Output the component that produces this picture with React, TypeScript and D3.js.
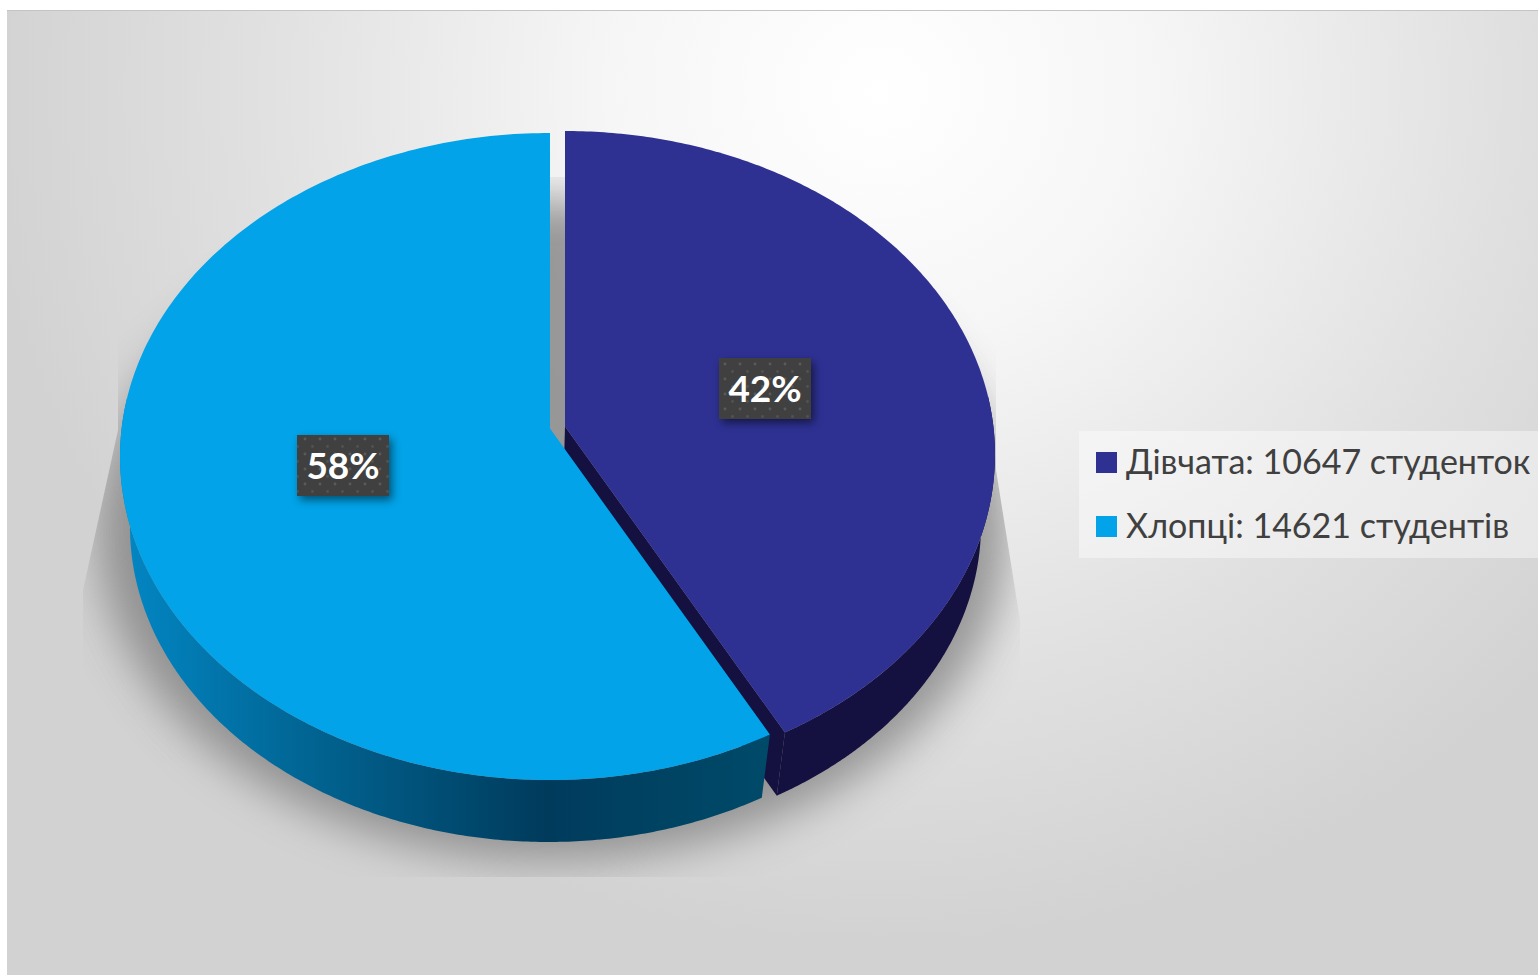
import React from "react";
import * as d3 from "d3";

const categories = ["Дівчата", "Хлопці"];
const studentCounts = [10647, 14621];
const percentLabels = ["42%", "58%"];
const legendLabels = ["Дівчата: 10647 студенток", "Хлопці: 14621 студентів"];
const topColors = ["#2E3192", "#02A3E8"];

const W = 1538, H = 975;
// perspective pole of the pie disc (fraction of the radius)
const K = 0.0866;
const tops = [
  { cx: 565, cy: 454.5, rx: 430, ry: 323.5 },
  { cx: 550, cy: 456.5, rx: 430, ry: 323.5 },
];
const bottoms = [
  { cx: 563, cy: 525, rx: 418, ry: 315 },
  { cx: 548, cy: 527, rx: 418, ry: 315 },
];
type E = { cx: number; cy: number; rx: number; ry: number };

function project(t: number, e: E): [number, number] {
  const x = Math.sin(t), y = -Math.cos(t);
  const d = 1 - K * y;
  return [e.cx + (e.rx * x * Math.sqrt(1 - K * K)) / d, e.cy + (e.ry * (y - K)) / d];
}
const apex = (e: E): [number, number] => [e.cx, e.cy - K * e.ry];
const line = d3.line<[number, number]>();
const sweep = (a: number, b: number, e: E) =>
  d3.range(0, 241).map((i) => project(a + ((b - a) * i) / 240, e));

export default function App() {
  const arcs = d3.pie<number>().sort(null)(studentCounts);
  const legendY = d3.scalePoint<string>().domain(categories).range([463, 527]);

  const purple = arcs[0], blue = arcs[1];
  const sectorPath = (i: number) => {
    const a = arcs[i];
    return line([apex(tops[i]), ...sweep(a.startAngle, a.endAngle, tops[i])])! + "Z";
  };
  // outer wall: only the front part, from the cut edge to the horizontal extreme
  const purpleWall =
    line([
      apex(tops[0]),
      ...sweep(Math.PI * 0.47, purple.endAngle, tops[0]),
      ...sweep(purple.endAngle, Math.PI * 0.47, bottoms[0]),
    ])! + "Z";
  const purpleCut =
    line([
      apex(tops[0]),
      project(purple.endAngle, tops[0]),
      project(purple.endAngle, bottoms[0]),
      apex(bottoms[0]),
    ])! + "Z";
  const blueWall =
    line([
      ...sweep(blue.startAngle, Math.PI * 1.53, tops[1]),
      ...sweep(Math.PI * 1.53, blue.startAngle, bottoms[1]),
    ])! + "Z";

  return (
    <svg
      width={W}
      height={H}
      style={{ position: "absolute", left: 0, top: 0, display: "block" }}
      fontFamily="Lato, 'Open Sans', 'Noto Sans', sans-serif"
    >
      <defs>
        <radialGradient id="bg" gradientUnits="userSpaceOnUse" cx={880} cy={90} r={900} gradientTransform="translate(880 90) scale(1 0.95) translate(-880 -90)">
          <stop offset="0" stopColor="#ffffff" />
          <stop offset="0.3" stopColor="#f6f6f6" />
          <stop offset="0.7" stopColor="#e0e0e0" />
          <stop offset="1" stopColor="#d2d2d2" />
        </radialGradient>
        <linearGradient id="blueWall" gradientUnits="userSpaceOnUse" x1={130} x2={770} y1={0} y2={0}>
          <stop offset="0" stopColor="#0285C2" />
          <stop offset="0.3" stopColor="#01628F" />
          <stop offset="0.65" stopColor="#003B5C" />
          <stop offset="1" stopColor="#004A69" />
        </linearGradient>
        <filter id="blurShadow" x="-20%" y="-20%" width="140%" height="140%">
          <feGaussianBlur stdDeviation="22" />
        </filter>
        <filter id="labelShadow" x="-30%" y="-30%" width="170%" height="170%">
          <feGaussianBlur stdDeviation="4" />
        </filter>
        <clipPath id="shadowClip">
          <polygon points="118,430 83,590 83,877 1020,877 1020,620 996,470 996,177 118,177" />
        </clipPath>
        <pattern id="dots" patternUnits="userSpaceOnUse" width="15" height="15" x="722" y="361">
          <rect width="15" height="15" fill="#404040" />
          <circle cx="3" cy="3" r="1.4" fill="#5a5a5a" />
          <circle cx="10.5" cy="10.5" r="1.4" fill="#525252" />
        </pattern>
      </defs>

      <rect x={7} y={10} width={W - 7} height={H - 10} fill="url(#bg)" />
      <line x1={7} x2={W} y1={10.5} y2={10.5} stroke="#c4c4c4" />

      <g clipPath="url(#shadowClip)">
        <ellipse cx={553} cy={530} rx={455} ry={330} fill="#7c7c7c" opacity={0.75} filter="url(#blurShadow)" />
      </g>

      <path d={purpleWall} fill="#14103F" />
      <path d={purpleCut} fill="#14103F" />
      <path d={sectorPath(0)} fill={topColors[0]} />
      <path d={blueWall} fill="url(#blueWall)" />
      <path d={sectorPath(1)} fill={topColors[1]} />

      {percentLabels.map((t, i) => {
        const x = i === 0 ? 719 : 297;
        const y = i === 0 ? 358 : 435;
        return (
          <g key={t}>
            <rect x={x + 3} y={y + 4} width={92} height={61} fill="#000" opacity={0.5} filter="url(#labelShadow)" />
            <rect x={x} y={y} width={92} height={61} fill="url(#dots)" />
            <text x={x + 46} y={y + 44} textAnchor="middle" fill="#fff" fontSize={37} fontWeight={700}>
              {t}
            </text>
          </g>
        );
      })}

      <rect x={1079} y={431} width={459} height={127} fill="#fff" opacity={0.42} />
      {categories.map((c, i) => (
        <g key={c}>
          <rect x={1096} y={legendY(c)! - 11} width={21} height={21} fill={topColors[i]} />
          <text x={1126} y={legendY(c)! + 11} fill="#404040" fontSize={34}>
            {legendLabels[i]}
          </text>
        </g>
      ))}
    </svg>
  );
}
